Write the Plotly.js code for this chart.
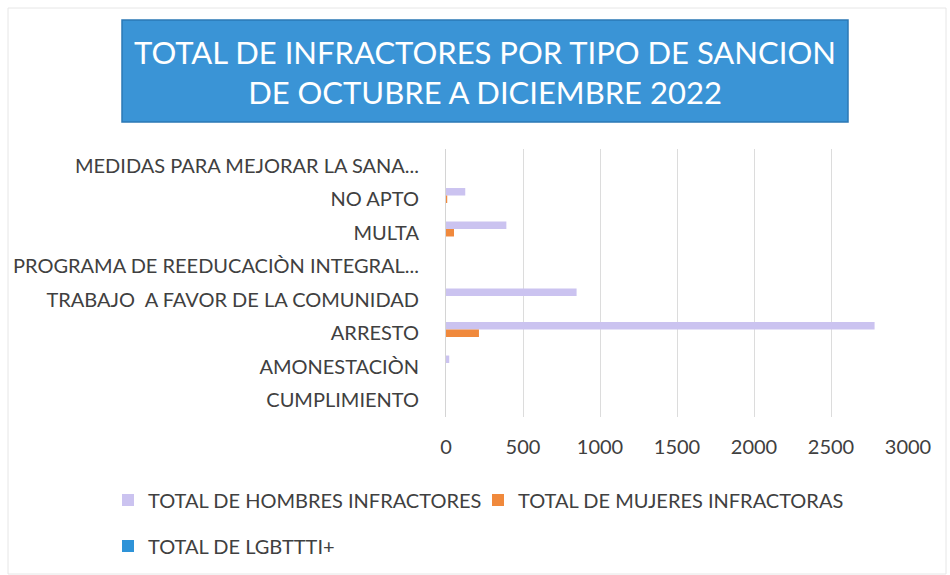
<!DOCTYPE html>
<html>
<head>
<meta charset="utf-8">
<script src="https://cdn.plot.ly/plotly-3.0.1.min.js"></script>
<style>html,body{margin:0;padding:0;background:#fff;}#chart{width:950px;height:575px;}</style>
</head>
<body>
<div id="chart"></div>
<script>
var categories = [
  "MEDIDAS PARA MEJORAR LA SANA...",
  "NO APTO",
  "MULTA",
  "PROGRAMA DE REEDUCACIÒN INTEGRAL...",
  "TRABAJO  A FAVOR DE LA COMUNIDAD",
  "ARRESTO",
  "AMONESTACIÒN",
  "CUMPLIMIENTO"
];
var hombres = [0, 125, 392, 0, 848, 2783, 21, 0];
var mujeres = [0, 8, 52, 0, 0, 214, 0, 0];
var lgbt = [0, 0, 0, 0, 0, 0, 0, 0];
var seriesNames = ["TOTAL DE HOMBRES INFRACTORES", "TOTAL DE MUJERES INFRACTORAS", "TOTAL DE LGBTTTI+"];
var xTicks = [0, 500, 1000, 1500, 2000, 2500, 3000];
var titleText = "TOTAL DE INFRACTORES POR TIPO DE SANCION<br>DE OCTUBRE A DICIEMBRE 2022";

var font = "Lato, 'Open Sans', sans-serif";
var traces = [
  {type: "bar", orientation: "h", name: seriesNames[0], y: categories, x: hombres,
   marker: {color: "#cbc3f0"}, legend: "legend"},
  {type: "bar", orientation: "h", name: seriesNames[1], y: categories, x: mujeres,
   marker: {color: "#f0893c"}, legend: "legend2"},
  {type: "bar", orientation: "h", name: seriesNames[2], y: categories, x: lgbt,
   marker: {color: "#2e93d8"}, legend: "legend3"}
];

var W = 950, H = 575, L = 446, R = 908, T = 149, B = 417;
function leg(xpx, ypx) {
  return {
    orientation: "h",
    xref: "container", yref: "container",
    x: xpx / W, xanchor: "left",
    y: 1 - ypx / H, yanchor: "middle",
    font: {size: 20, color: "#404040", family: font},
    itemwidth: 30,
    bgcolor: "rgba(0,0,0,0)"
  };
}
var layout = {
  width: W, height: H,
  margin: {l: L, r: W - R, t: T, b: H - B},
  paper_bgcolor: "#ffffff",
  plot_bgcolor: "#ffffff",
  font: {family: font, color: "#404040", size: 20},
  barmode: "group",
  bargap: 0.33,
  bargroupgap: 0,
  title: {
    text: titleText,
    font: {family: font, size: 31, color: "#ffffff"},
    x: 485 / W, xanchor: "center", xref: "container",
    y: 1 - 64 / H, yanchor: "middle", yref: "container"
  },
  xaxis: {
    range: [0, 3000],
    tickvals: xTicks,
    ticktext: xTicks.map(String),
    showgrid: true, gridcolor: "#dcdcdc", gridwidth: 1,
    zeroline: false, showline: false,
    ticks: "", ticklabelstandoff: 16,
    tickfont: {size: 20, color: "#404040"},
    fixedrange: true
  },
  yaxis: {
    autorange: "reversed",
    type: "category",
    showgrid: false, zeroline: false,
    showline: true, linecolor: "#d4d4d4", linewidth: 1,
    ticks: "", ticklabelstandoff: 22,
    tickfont: {size: 20, color: "#404040"},
    fixedrange: true
  },
  showlegend: true,
  legend: leg(108, 500),
  legend2: leg(478, 500),
  legend3: leg(108, 546),
  shapes: [
    {type: "rect", xref: "paper", yref: "paper", layer: "below",
     x0: (122 - L) / (R - L), x1: (848 - L) / (R - L),
     y0: (B - 122) / (B - T), y1: (B - 20) / (B - T),
     fillcolor: "#3a94d6", line: {color: "#2b78b5", width: 1.5}},
    {type: "rect", xref: "paper", yref: "paper", layer: "below",
     x0: (8 - L) / (R - L), x1: (946 - L) / (R - L),
     y0: (B - 574) / (B - T), y1: (B - 8) / (B - T),
     fillcolor: "rgba(0,0,0,0)", line: {color: "#e6e6e6", width: 1}}
  ]
};

Plotly.newPlot("chart", traces, layout, {displayModeBar: false, staticPlot: true});
</script>
</body>
</html>
